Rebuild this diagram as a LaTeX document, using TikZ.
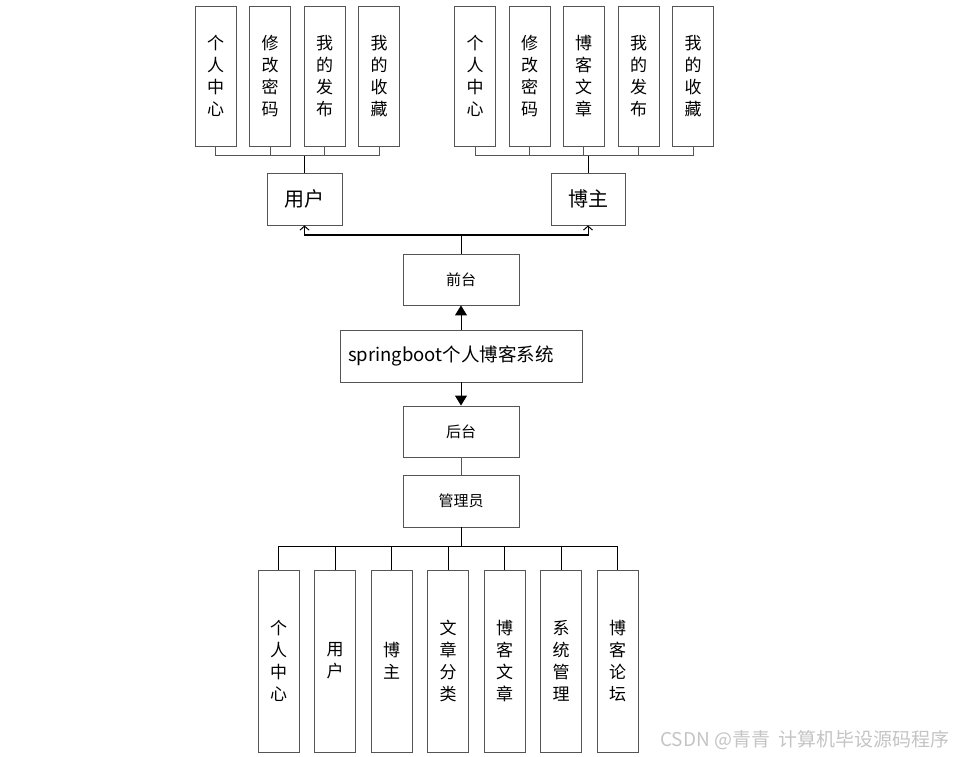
\documentclass[tikz,border=0pt]{standalone}
\usepackage{fontspec}
\newfontfamily\cjk{Noto Sans CJK SC}
\usetikzlibrary{arrows.meta}
\definecolor{boxline}{HTML}{555555}
\definecolor{wm}{HTML}{C4C4C4}
\tikzset{
  box/.style={draw=boxline, line width=0.9pt, fill=white, inner sep=0pt, align=center},
  vbox/.style={box, minimum width=41pt, font=\cjk\fontsize{17}{22}\selectfont},
  topbox/.style={vbox, minimum height=140pt},
  botbox/.style={vbox, minimum height=182pt},
  midbox/.style={box, minimum width=116pt, minimum height=51pt, font=\cjk\fontsize{15}{17}\selectfont},
  rolebox/.style={box, minimum width=75pt, minimum height=52pt, font=\cjk\fontsize{20}{22}\selectfont},
  conn/.style={draw=black, line width=1pt},
  gconn/.style={draw=boxline, line width=1pt},
  openarr/.style={conn, -{Straight Barb[length=4pt,width=9pt]}},
  fillarr/.style={conn, -{Triangle[length=10pt,width=12pt]}},
}
\begin{document}
\begin{tikzpicture}[x=1pt,y=-1pt]
\useasboundingbox (0,0) rectangle (954,757);
% top-left group
\node[topbox] (a1) at (215.5,76) {个\\人\\中\\心};
\node[topbox] (a2) at (270,76) {修\\改\\密\\码};
\node[topbox] (a3) at (324.5,76) {我\\的\\发\\布};
\node[topbox] (a4) at (379,76) {我\\的\\收\\藏};
% top-right group
\node[topbox] (b1) at (475,76) {个\\人\\中\\心};
\node[topbox] (b2) at (529.5,76) {修\\改\\密\\码};
\node[topbox] (b3) at (583.5,76) {博\\客\\文\\章};
\node[topbox] (b4) at (638.5,76) {我\\的\\发\\布};
\node[topbox] (b5) at (693,76) {我\\的\\收\\藏};
% roles
\node[rolebox] (user) at (304.5,199) {用户};
\node[rolebox, minimum width=74pt] (boz) at (588,199) {博主};
% middle
\node[midbox] (qt) at (461,279.5) {前台};
\node[box, minimum width=242pt, minimum height=52pt, inner xsep=8pt, text width=226pt, align=left, font=\cjk\fontsize{18.5}{20}\selectfont] (sys) at (461,356) {springboot个人博客系统};
\node[midbox] (ht) at (461,431.5) {后台};
\node[midbox, minimum height=52pt] (gly) at (461,501) {管理员};
% bottom
\node[botbox] (c1) at (278.5,661) {个\\人\\中\\心};
\node[botbox] (c2) at (335,661) {用\\户};
\node[botbox] (c3) at (391.5,661) {博\\主};
\node[botbox] (c4) at (448,661) {文\\章\\分\\类};
\node[botbox] (c5) at (504.5,661) {博\\客\\文\\章};
\node[botbox] (c6) at (561,661) {系\\统\\管\\理};
\node[botbox] (c7) at (617.5,661) {博\\客\\论\\坛};
% bus coordinates
\coordinate (busL) at (0,156);
\coordinate (busA) at (0,235);
\coordinate (busB) at (0,546);
% top-left connectors
\draw[gconn] (a1.south) -- (a1.south |- busL) -- (a4.south |- busL) -- (a4.south);
\draw[gconn] (a2.south) -- (a2.south |- busL);
\draw[gconn] (a3.south) -- (a3.south |- busL);
\draw[conn] (user.north) -- (user.north |- busL);
% top-right connectors
\draw[gconn] (b1.south) -- (b1.south |- busL) -- (b5.south |- busL) -- (b5.south);
\draw[gconn] (b2.south) -- (b2.south |- busL);
\draw[gconn] (b3.south) -- (b3.south |- busL);
\draw[gconn] (b4.south) -- (b4.south |- busL);
\draw[conn] (boz.north) -- (boz.north |- busL);
% front arrows
\draw[conn] (qt.north) -- (qt.north |- busA);
\draw[openarr] (qt.north |- busA) -| (user.south);
\draw[openarr] (qt.north |- busA) -| (boz.south);
\draw[fillarr] (sys.north) -- (qt.south);
\draw[fillarr] (sys.south) -- (ht.north);
\draw[gconn] (ht.south) -- (gly.north);
% bottom connectors
\draw[conn] (gly.south) -- (gly.south |- busB);
\draw[conn] (c1.north) -- (c1.north |- busB) -- (c7.north |- busB) -- (c7.north);
\foreach \n in {c2,c3,c4,c5,c6} \draw[conn] (\n.north) -- (\n.north |- busB);
% watermark
\node[anchor=east, text=wm, inner sep=0pt, font=\cjk\fontsize{19}{21}\selectfont] (wmk) at (950,740) {CSDN @青青\ \ 计算机毕设源码程序};
\end{tikzpicture}
\end{document}
